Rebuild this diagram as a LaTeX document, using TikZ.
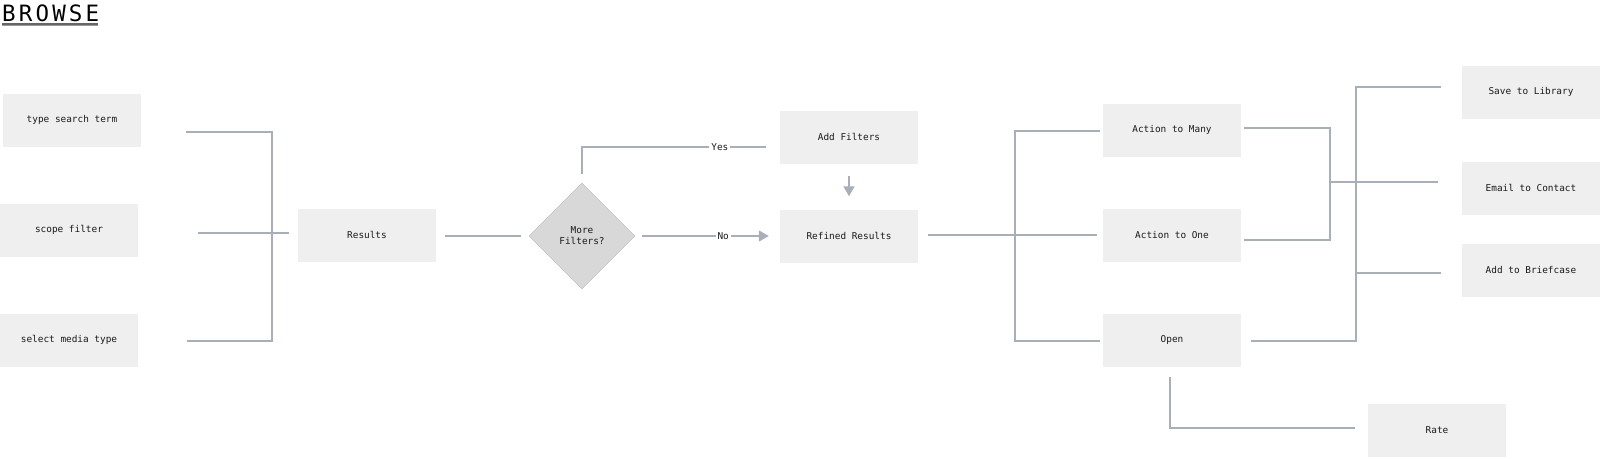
\documentclass[tikz,border=0pt]{standalone}
\usepackage{fontspec}
\setmonofont{DejaVu Sans Mono}
\newfontfamily\titlefont[LetterSpace=14]{DejaVu Sans Mono}
\usepackage{tikz}
\usetikzlibrary{calc,shapes.geometric,arrows.meta}

\definecolor{boxfill}{HTML}{EFEFEF}
\definecolor{linkgray}{HTML}{A9AFB8}
\definecolor{diafill}{HTML}{D8D8D8}
\definecolor{txtgray}{HTML}{1A1A1A}

\tikzset{
    boxfont/.style={font=\ttfamily\fontsize{9.4}{11}\selectfont, text=txtgray},
    stepbox/.style={boxfont, fill=boxfill, minimum width=138pt, minimum height=53pt, inner sep=0pt},
    decide/.style={boxfont, diamond, fill=diafill, draw=diafill!85!black, line width=0.4pt,
        minimum width=106pt, minimum height=106pt, inner sep=0pt, align=center},
    link/.style={draw=linkgray, line width=1.6pt},
    arrowlink/.style={link, -{Triangle[length=10pt,width=11pt]}},
    lab/.style={boxfont, fill=white, inner sep=2pt}
}

\begin{document}
\begin{tikzpicture}[x=1pt,y=-1pt]
        \useasboundingbox (0,0) rectangle (1600,458);
        \node[anchor=base west, inner sep=0pt, text=black, font=\titlefont\fontsize{22.5}{22.5}\selectfont] (browse) at (2,21) {BROWSE};
        \draw[draw=black!60, line width=1.5pt] ([shift={(0,3)}]browse.base west) -- ([shift={(-1,3)}]browse.base east);
        \draw[draw=black!40, line width=1.5pt] ([shift={(0,4.6)}]browse.base west) -- ([shift={(-1,4.6)}]browse.base east);

        \node[stepbox] (term) at (72,120) {type search term};
        \node[stepbox] (scope) at (69,230) {scope filter};
        \node[stepbox] (media) at (69,340) {select media type};
        \node[stepbox] (results) at (367,235) {Results};
        \node[decide] (more) at (582,236) {More\\Filters?};
        \node[stepbox] (addfilt) at (849,137) {Add Filters};
        \node[stepbox] (refined) at (849,236) {Refined Results};
        \node[stepbox] (many) at (1172,130) {Action to Many};
        \node[stepbox] (one) at (1172,235) {Action to One};
        \node[stepbox] (open) at (1172,340) {Open};
        \node[stepbox] (save) at (1531,92) {Save to Library};
        \node[stepbox] (email) at (1531,188) {Email to Contact};
        \node[stepbox] (brief) at (1531,270) {Add to Briefcase};
        \node[stepbox] (rate) at (1437,430) {Rate};

        \coordinate (jin) at (272,233);
        \coordinate (jact) at (1015,235);
        \coordinate (jmo) at (1330,182);
        \coordinate (jsave) at (1356,87);
        \coordinate (jbrief) at (1356,273);

        \draw[link] ([shift={(45,12)}]term.east) -| (jin) |- ([shift={(49,1)}]media.east);
        \draw[link] ([shift={(60,3)}]scope.east) -- ([shift={(-9,-2)}]results.west);
        \draw[link] ([shift={(9,1)}]results.east) -- ([shift={(-8,0)}]more.west);
        \draw[link] ([shift={(0,-9)}]more.north) |- node[lab, pos=0.875] {Yes} ([shift={(-14,10)}]addfilt.west);
        \draw[arrowlink] ([shift={(7,0)}]more.east) -- node[lab, pos=0.64] {No} ([shift={(-11,0)}]refined.west);
        \draw[arrowlink] ([shift={(0,12)}]addfilt.south) -- ([shift={(0,-13)}]refined.north);

        \draw[link] ([shift={(10,-1)}]refined.east) -- ([shift={(-6,0)}]one.west);
        \draw[link] ([shift={(-3,1)}]many.west) -| (jact) |- ([shift={(-3,1)}]open.west);

        \draw[link] ([shift={(3,-2)}]many.east) -| (jmo) |- ([shift={(3,5)}]one.east);
        \draw[link] (jmo) -- ([shift={(-24,-6)}]email.west);
        \draw[link] ([shift={(10,1)}]open.east) -| (jsave) -- ([shift={(-21,-5)}]save.west);
        \draw[link] (jbrief) -- ([shift={(-21,3)}]brief.west);
        \draw[link] ([shift={(-2,10)}]open.south) |- ([shift={(-13,-2)}]rate.west);
    \end{tikzpicture}
\end{document}
